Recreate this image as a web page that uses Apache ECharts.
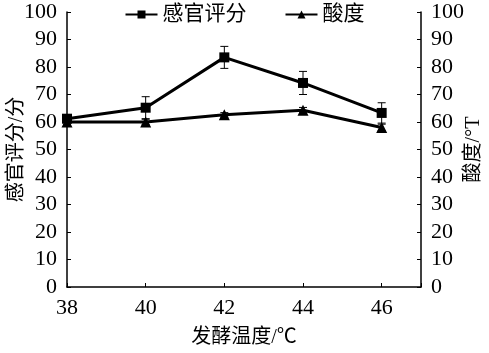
<!DOCTYPE html>
<html lang="zh">
<head>
<meta charset="utf-8">
<script src="https://cdn.jsdelivr.net/npm/echarts@6/dist/echarts.min.js"></script>
<style>
  html, body { margin: 0; padding: 0; background: #fff; }
  #chart { width: 489px; height: 353px; }
</style>
</head>
<body>
<div id="chart"></div>
<script>
// 发酵温度 (℃)
var temps = [38, 40, 42, 44, 46];
// 感官评分 及误差
var sensory = [61.2, 65.2, 83.5, 74.2, 63.3];
var sensoryErr = [1.0, 4.0, 4.0, 4.2, 3.7];
// 酸度 (°T) 及误差
var acidity = [60.0, 60.0, 62.6, 64.3, 58.0];
var acidityErr = [0.8, 1.0, 0.8, 1.0, 1.2];

var font = '"Liberation Serif", "Noto Sans CJK SC", serif';

function pairs(xs, ys) {
    return xs.map(function (x, i) { return [x, ys[i]]; });
}
function errData(xs, ys, es) {
    return xs.map(function (x, i) { return [x, ys[i] - es[i], ys[i] + es[i]]; });
}
function errRender(params, api) {
    var lo = api.coord([api.value(0), api.value(1)]);
    var hi = api.coord([api.value(0), api.value(2)]);
    var w = 4;
    var st = { stroke: '#000', lineWidth: 1 };
    return {
        type: 'group',
        children: [
            { type: 'line', shape: { x1: lo[0], y1: lo[1], x2: hi[0], y2: hi[1] }, style: st },
            { type: 'line', shape: { x1: lo[0] - w, y1: lo[1], x2: lo[0] + w, y2: lo[1] }, style: st },
            { type: 'line', shape: { x1: hi[0] - w, y1: hi[1], x2: hi[0] + w, y2: hi[1] }, style: st }
        ]
    };
}

var yAxisBase = {
    type: 'value', min: 0, max: 100, interval: 10,
    nameLocation: 'middle', nameRotate: 90, nameMoveOverlap: false,
    nameTextStyle: { fontFamily: font, fontSize: 20, color: '#000' },
    axisLine: { show: true, lineStyle: { color: '#000', width: 1.5 } },
    axisTick: { show: true, inside: true, length: 4, lineStyle: { color: '#000' } },
    axisLabel: { fontFamily: font, fontSize: 22, color: '#000', margin: 10 },
    splitLine: { show: false }
};

var chart = echarts.init(document.getElementById('chart'), null, { renderer: 'canvas' });
chart.setOption({
    animation: false,
    backgroundColor: '#fff',
    grid: { left: 67, right: 68, top: 12, bottom: 66, containLabel: false, outerBoundsMode: 'none' },
    legend: {
        top: -1, left: 'center',
        itemWidth: 32, itemHeight: 10, itemGap: 38,
        textStyle: { fontFamily: font, fontSize: 21, color: '#000' },
        data: ['感官评分', '酸度']
    },
    xAxis: {
        type: 'value', min: 38, max: 47, interval: 2,
        name: '发酵温度/℃', nameLocation: 'middle', nameGap: 41, nameMoveOverlap: false,
        nameTextStyle: { fontFamily: font, fontSize: 20, color: '#000' },
        axisLine: { show: true, lineStyle: { color: '#000', width: 1.5 } },
        axisTick: { show: true, inside: true, length: 4, lineStyle: { color: '#000' } },
        axisLabel: {
            fontFamily: font, fontSize: 22, color: '#000', margin: 10,
            formatter: function (v) { return v === 47 ? '' : String(v); }
        },
        splitLine: { show: false }
    },
    yAxis: [
        Object.assign({}, yAxisBase, { name: '感官评分/分', position: 'left', nameGap: 40 }),
        Object.assign({}, yAxisBase, { name: '酸度/°T', position: 'right', nameGap: 43 })
    ],
    series: [
        {
            name: '感官评分', type: 'line', yAxisIndex: 0,
            data: pairs(temps, sensory),
            symbol: 'rect', symbolSize: 10, showAllSymbol: true,
            lineStyle: { color: '#000', width: 3 },
            itemStyle: { color: '#000' }, z: 3
        },
        {
            name: '酸度', type: 'line', yAxisIndex: 1,
            data: pairs(temps, acidity),
            symbol: 'triangle', symbolSize: 11,
            lineStyle: { color: '#000', width: 3 },
            itemStyle: { color: '#000' }, z: 3
        },
        {
            type: 'custom', yAxisIndex: 0, renderItem: errRender,
            data: errData(temps, sensory, sensoryErr), z: 2, silent: true
        },
        {
            type: 'custom', yAxisIndex: 1, renderItem: errRender,
            data: errData(temps, acidity, acidityErr), z: 2, silent: true
        }
    ]
});
</script>
</body>
</html>
